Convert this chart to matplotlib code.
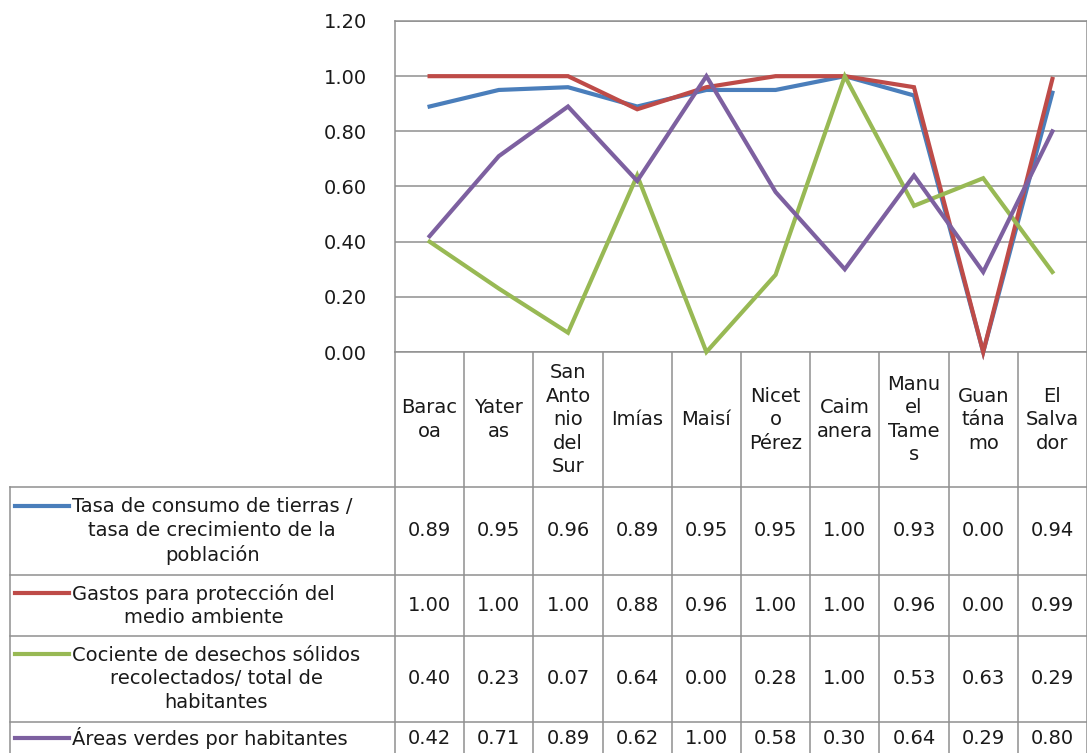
import matplotlib
matplotlib.use("Agg")
import matplotlib.pyplot as plt
from matplotlib.transforms import blended_transform_factory

municipios = ["Barac\noa", "Yater\nas", "San\nAnto\nnio\ndel\nSur", "Imías", "Maisí",
              "Nicet\no\nPérez", "Caim\nanera", "Manu\nel\nTame\ns", "Guan\ntána\nmo",
              "El\nSalva\ndor"]
tasa_consumo = [0.89, 0.95, 0.96, 0.89, 0.95, 0.95, 1.00, 0.93, 0.00, 0.94]
gastos       = [1.00, 1.00, 1.00, 0.88, 0.96, 1.00, 1.00, 0.96, 0.00, 0.99]
desechos     = [0.40, 0.23, 0.07, 0.64, 0.00, 0.28, 1.00, 0.53, 0.63, 0.29]
areas        = [0.42, 0.71, 0.89, 0.62, 1.00, 0.58, 0.30, 0.64, 0.29, 0.80]
nombres = ["Tasa de consumo de tierras /\ntasa de crecimiento de la\npoblación",
           "Gastos para protección del\nmedio ambiente",
           "Cociente de desechos sólidos\nrecolectados/ total de\nhabitantes",
           "Áreas verdes por habitantes"]
y_ticks = [0.0, 0.2, 0.4, 0.6, 0.8, 1.0, 1.2]

series = [tasa_consumo, gastos, desechos, areas]
colores = ["#4a7ebb", "#be4b48", "#98b954", "#7d60a0"]

W, H = 1087, 753
FS = 14
GRIS = "#909090"
TXT = "#1a1a1a"

fig = plt.figure(figsize=(W / 100, H / 100), dpi=100)
fig.patch.set_facecolor("white")

# plot area in pixels: left 395, right 1087, top 21, bottom 352
ax = fig.add_axes([395 / W, 1 - 352 / H, (1087 - 395) / W, (352 - 21) / H])
n = len(municipios)
x = list(range(n))
for vals, c in zip(series, colores):
    ax.plot(x, vals, color=c, lw=3, solid_joinstyle="miter", clip_on=False, zorder=3)

ax.set_xlim(-0.5, n - 0.5)
ax.set_ylim(0, 1.2)
ax.set_yticks(y_ticks)
ax.set_yticklabels(["%.2f" % t for t in y_ticks], fontsize=FS, color=TXT)
ax.tick_params(axis="y", length=0, pad=20)
ax.set_xticks([])
ax.yaxis.grid(True, color=GRIS, lw=1.1)
ax.set_axisbelow(True)
for s in ax.spines.values():
    s.set_color(GRIS)
    s.set_linewidth(1.1)

# data table underneath, drawn in pixel coords (y down) with columns tied to the axes
tab = fig.add_axes([0, 0, 1, 1], zorder=-1)
tab.set_xlim(0, W)
tab.set_ylim(H, 0)
tab.axis("off")
tr = blended_transform_factory(ax.transData, tab.transData)

head_top, head_bot = 352, 487
row_edges = [487, 575, 636, 722, 810]
left_box = 10
line_px = 25

for i in range(n + 1):
    tab.plot([i - 0.5, i - 0.5], [head_top, H], transform=tr, color=GRIS, lw=1.1, clip_on=False)
tab.plot([left_box, left_box], [head_bot, H], color=GRIS, lw=1.1)
for yy in row_edges[:-1]:
    tab.plot([left_box, W], [yy, yy], color=GRIS, lw=1.1)

for i, m in enumerate(municipios):
    tab.text(i, (head_top + head_bot) / 2, m, transform=tr, ha="center", va="center",
             fontsize=FS, color=TXT, linespacing=1.3, multialignment="center")

for r, (vals, nombre, c) in enumerate(zip(series, nombres, colores)):
    top, bot = row_edges[r], row_edges[r + 1]
    yc = (top + bot) / 2
    if r == len(series) - 1:
        yc = 738
    for i, v in enumerate(vals):
        tab.text(i, yc, "%.2f" % v, transform=tr, ha="center", va="center",
                 fontsize=FS, color=TXT)
    nl = nombre.count("\n") + 1
    tab.text(72, yc, nombre, ha="left", va="center", multialignment="center",
             fontsize=FS, color=TXT, linespacing=1.3)
    ky = yc - (nl - 1) / 2 * line_px
    tab.plot([15, 69], [ky, ky], color=c, lw=3)

fig.savefig("out.png", dpi=100, facecolor="white")
